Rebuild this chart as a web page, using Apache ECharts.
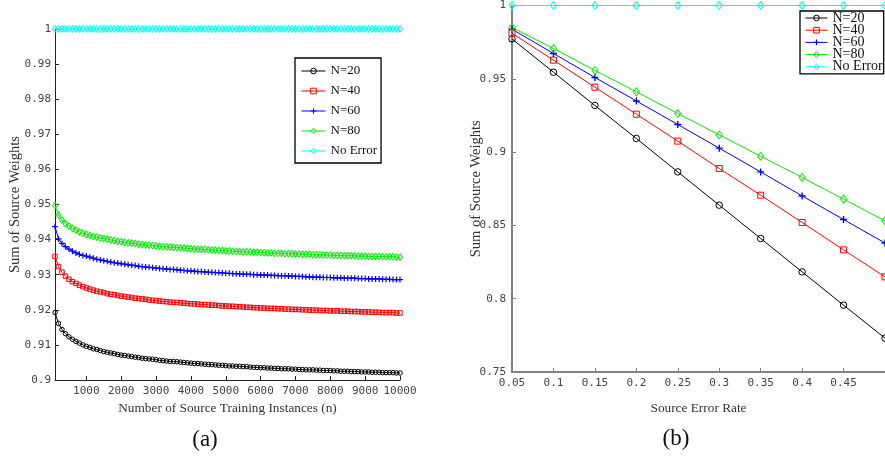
<!DOCTYPE html>
<html><head><meta charset="utf-8">
<script src="https://cdn.jsdelivr.net/npm/echarts@6/dist/echarts.min.js"></script>
<style>html,body{margin:0;padding:0;background:#fff}#c{width:885px;height:457px}</style>
</head><body><div id="c"></div>
<script>
// ---------- Panel (a) data ----------
var nValues = [100,200,300,400,500,600,700,800,900,1000,1100,1200,1300,1400,1500,1600,1700,1800,1900,2000,2100,2200,2300,2400,2500,2600,2700,2800,2900,3000,3100,3200,3300,3400,3500,3600,3700,3800,3900,4000,4100,4200,4300,4400,4500,4600,4700,4800,4900,5000,5100,5200,5300,5400,5500,5600,5700,5800,5900,6000,6100,6200,6300,6400,6500,6600,6700,6800,6900,7000,7100,7200,7300,7400,7500,7600,7700,7800,7900,8000,8100,8200,8300,8400,8500,8600,8700,8800,8900,9000,9100,9200,9300,9400,9500,9600,9700,9800,9900,10000];
var xTicksA = [1000,2000,3000,4000,5000,6000,7000,8000,9000,10000];
var n20A = [0.9192,0.9161,0.9144,0.9132,0.9123,0.9116,0.9110,0.9105,0.9100,0.9096,
0.9093,0.9089,0.9087,0.9084,0.9081,0.9079,0.9077,0.9075,0.9073,0.9071,
0.9070,0.9068,0.9067,0.9065,0.9064,0.9062,0.9061,0.9060,0.9059,0.9058,
0.9056,0.9055,0.9054,0.9053,0.9053,0.9052,0.9051,0.9050,0.9049,0.9048,
0.9047,0.9047,0.9046,0.9045,0.9044,0.9044,0.9043,0.9042,0.9042,0.9041,
0.9040,0.9040,0.9039,0.9039,0.9038,0.9038,0.9037,0.9036,0.9036,0.9035,
0.9035,0.9034,0.9034,0.9033,0.9033,0.9032,0.9032,0.9032,0.9031,0.9031,
0.9030,0.9030,0.9029,0.9029,0.9029,0.9028,0.9028,0.9027,0.9027,0.9027,
0.9026,0.9026,0.9025,0.9025,0.9025,0.9024,0.9024,0.9024,0.9023,0.9023,
0.9023,0.9022,0.9022,0.9022,0.9021,0.9021,0.9021,0.9021,0.9020,0.9020];
var n40A = [0.9352,0.9323,0.9307,0.9296,0.9287,0.9280,0.9275,0.9270,0.9266,0.9262,
0.9259,0.9256,0.9253,0.9251,0.9249,0.9246,0.9244,0.9243,0.9241,0.9239,
0.9238,0.9236,0.9235,0.9233,0.9232,0.9231,0.9230,0.9228,0.9227,0.9226,
0.9225,0.9224,0.9223,0.9222,0.9221,0.9221,0.9220,0.9219,0.9218,0.9217,
0.9217,0.9216,0.9215,0.9215,0.9214,0.9213,0.9213,0.9212,0.9211,0.9211,
0.9210,0.9210,0.9209,0.9209,0.9208,0.9207,0.9207,0.9206,0.9206,0.9205,
0.9205,0.9204,0.9204,0.9204,0.9203,0.9203,0.9202,0.9202,0.9201,0.9201,
0.9201,0.9200,0.9200,0.9199,0.9199,0.9199,0.9198,0.9198,0.9198,0.9197,
0.9197,0.9197,0.9196,0.9196,0.9196,0.9195,0.9195,0.9195,0.9194,0.9194,
0.9194,0.9193,0.9193,0.9193,0.9192,0.9192,0.9192,0.9192,0.9191,0.9191];
var n60A = [0.9437,0.9402,0.9389,0.9380,0.9373,0.9367,0.9362,0.9358,0.9355,0.9353,
0.9350,0.9347,0.9344,0.9342,0.9340,0.9338,0.9336,0.9334,0.9333,0.9331,
0.9330,0.9328,0.9327,0.9326,0.9324,0.9323,0.9322,0.9321,0.9320,0.9319,
0.9318,0.9317,0.9316,0.9315,0.9315,0.9314,0.9313,0.9312,0.9311,0.9311,
0.9310,0.9309,0.9309,0.9308,0.9307,0.9307,0.9306,0.9306,0.9305,0.9304,
0.9304,0.9303,0.9303,0.9302,0.9302,0.9301,0.9301,0.9300,0.9300,0.9299,
0.9299,0.9299,0.9298,0.9298,0.9297,0.9297,0.9297,0.9296,0.9296,0.9295,
0.9295,0.9295,0.9294,0.9294,0.9293,0.9293,0.9293,0.9292,0.9292,0.9292,
0.9291,0.9291,0.9291,0.9290,0.9290,0.9290,0.9290,0.9289,0.9289,0.9289,
0.9288,0.9288,0.9288,0.9288,0.9287,0.9287,0.9287,0.9286,0.9286,0.9286];
var n80A = [0.9497,0.9470,0.9456,0.9445,0.9438,0.9432,0.9427,0.9422,0.9418,0.9415,
0.9412,0.9409,0.9407,0.9405,0.9403,0.9401,0.9399,0.9397,0.9395,0.9394,
0.9392,0.9391,0.9390,0.9389,0.9387,0.9386,0.9385,0.9384,0.9383,0.9382,
0.9381,0.9380,0.9379,0.9379,0.9378,0.9377,0.9376,0.9376,0.9375,0.9374,
0.9373,0.9373,0.9372,0.9372,0.9371,0.9370,0.9370,0.9369,0.9369,0.9368,
0.9368,0.9367,0.9366,0.9366,0.9365,0.9365,0.9365,0.9364,0.9364,0.9363,
0.9363,0.9362,0.9362,0.9361,0.9361,0.9361,0.9360,0.9360,0.9360,0.9359,
0.9359,0.9358,0.9358,0.9358,0.9357,0.9357,0.9357,0.9356,0.9356,0.9356,
0.9355,0.9355,0.9355,0.9354,0.9354,0.9354,0.9354,0.9353,0.9353,0.9353,
0.9352,0.9352,0.9352,0.9352,0.9351,0.9351,0.9351,0.9351,0.9350,0.9350];
var noErrA = [1,1,1,1,1,1,1,1,1,1,1,1,1,1,1,1,1,1,1,1,1,1,1,1,1,1,1,1,1,1,1,1,1,1,1,1,1,1,1,1,1,1,1,1,1,1,1,1,1,1,1,1,1,1,1,1,1,1,1,1,1,1,1,1,1,1,1,1,1,1,1,1,1,1,1,1,1,1,1,1,1,1,1,1,1,1,1,1,1,1,1,1,1,1,1,1,1,1,1,1];

// ---------- Panel (b) data ----------
var errRates = [0.05,0.1,0.15,0.2,0.25,0.3,0.35,0.4,0.45,0.5];
var n20B = [0.9772,0.9545,0.9318,0.9093,0.8865,0.8638,0.8411,0.8183,0.7956,0.7731];
var n40B = [0.9811,0.9627,0.9443,0.9259,0.9075,0.8888,0.8706,0.8520,0.8333,0.8149];
var n60B = [0.9838,0.9673,0.9509,0.9349,0.9188,0.9027,0.8865,0.8701,0.8540,0.8380];
var n80B = [0.9850,0.9707,0.9557,0.9411,0.9263,0.9117,0.8972,0.8827,0.8679,0.8531];
var noErrB = [1,1,1,1,1,1,1,1,1,1];

var seriesNames = ['N=20','N=40','N=60','N=80','No Error'];
var yTitle = 'Sum of Source Weights';
var xTitleA = 'Number of Source Training Instances (n)';
var xTitleB = 'Source Error Rate';

// ---------- styling ----------
var colors = ['#000000','#ff0000','#0000ff','#00ee00','#00ffff'];
var PLUS = 'path://M0,4H10V6H0Z M4,0H6V10H4Z';
var symA = [['circle',4.5],['rect',4.5],[PLUS,6],['diamond',[5,6.5]],['diamond',[5,6.5]]];
var symB = [['circle',6.5],['rect',6],[PLUS,7],['diamond',[6,8]],['diamond',[6,8]]];
var MONO = 'DejaVu Sans Mono';
var SERIF = 'Liberation Serif';
var CLEAR = 'rgba(255,255,255,0)';

function zip(xs, ys){ return xs.map(function(x,i){ return [x, ys[i]]; }); }
function styleFor(i, sym){
  return sym[0] === PLUS ? {color: colors[i], borderWidth: 0}
                         : {color: CLEAR, borderColor: colors[i], borderWidth: 1};
}
function mk(i, xs, ys, idx, sym){
  return {
    name: seriesNames[i], type: 'line', xAxisIndex: idx, yAxisIndex: idx,
    data: zip(xs, ys), symbol: sym[0], symbolSize: sym[1], showSymbol: true,
    clip: false, animation: false, silent: true,
    lineStyle: {color: colors[i], width: 1},
    itemStyle: styleFor(i, sym),
    emphasis: {disabled: true}
  };
}
function legendData(){
  return seriesNames.map(function(n, i){
    return {name: n, itemStyle: styleFor(i, symA[i]), lineStyle: {color: colors[i], width: 1}};
  });
}

var dataA = [n20A, n40A, n60A, n80A, noErrA];
var dataB = [n20B, n40B, n60B, n80B, noErrB];
var series = [];
for (var i = 0; i < 5; i++) series.push(mk(i, nValues, dataA[i], 0, symA[i]));
for (var j = 0; j < 5; j++) series.push(mk(j, errRates, dataB[j], 1, symB[j]));

var chart = echarts.init(document.getElementById('c'), null, {renderer: 'canvas'});
chart.setOption({
  animation: false,
  backgroundColor: '#fff',
  grid: [
    {left: 55, top: 29, width: 345, height: 351},
    {left: 512, top: 5, width: 374, height: 367}
  ],
  xAxis: [
    {type: 'value', gridIndex: 0, min: 100, max: 10000,
     name: xTitleA, nameLocation: 'middle', nameGap: 19,
     nameTextStyle: {fontFamily: SERIF, fontSize: 13.3, color: '#333'},
     axisLine: {lineStyle: {color: '#222', width: 1}},
     axisTick: {inside: true, length: 4, lineStyle: {color: '#222'}, customValues: xTicksA},
     axisLabel: {fontFamily: MONO, fontSize: 11, color: '#444', margin: 6, customValues: xTicksA,
                 hideOverlap: false, showMaxLabel: true,
                 formatter: function(v){ return String(v); }},
     splitLine: {show: false}},
    {type: 'value', gridIndex: 1, min: 0.05, max: 0.5, interval: 0.05,
     name: xTitleB, nameLocation: 'middle', nameGap: 30,
     nameTextStyle: {fontFamily: SERIF, fontSize: 13.3, color: '#333'},
     axisLine: {lineStyle: {color: '#808080', width: 2}},
     axisTick: {inside: true, length: 4, lineStyle: {color: '#808080'}},
     axisLabel: {fontFamily: MONO, fontSize: 11, color: '#444', margin: 6, showMaxLabel: false},
     splitLine: {show: false}}
  ],
  yAxis: [
    {type: 'value', gridIndex: 0, min: 0.9, max: 1, interval: 0.01,
     name: yTitle, nameLocation: 'middle', nameGap: 32.5, nameRotate: 90, nameMoveOverlap: false,
     nameTextStyle: {fontFamily: SERIF, fontSize: 14.5, color: '#333'},
     axisLine: {show: true, lineStyle: {color: '#222', width: 1}},
     axisTick: {show: true, inside: true, length: 4, lineStyle: {color: '#222'}},
     axisLabel: {fontFamily: MONO, fontSize: 11, color: '#444', margin: 4},
     splitLine: {show: false}},
    {type: 'value', gridIndex: 1, min: 0.75, max: 1, interval: 0.05,
     name: yTitle, nameLocation: 'middle', nameGap: 28.5, nameRotate: 90, nameMoveOverlap: false,
     nameTextStyle: {fontFamily: SERIF, fontSize: 14.5, color: '#333'},
     axisLine: {show: true, lineStyle: {color: '#808080', width: 2}},
     axisTick: {show: true, inside: true, length: 4, lineStyle: {color: '#808080'}},
     axisLabel: {fontFamily: MONO, fontSize: 11, color: '#444', margin: 6},
     splitLine: {show: false}}
  ],
  legend: [
    {data: legendData(), orient: 'vertical', left: 295, top: 58,
     itemWidth: 24, itemHeight: 7, itemGap: 6, selectedMode: false,
     padding: [6, 4, 5, 6], borderColor: '#000', borderWidth: 1.3, backgroundColor: '#fff',
     textStyle: {fontFamily: SERIF, fontSize: 13, lineHeight: 14, color: '#111'}},
    {data: legendData(), orient: 'vertical', left: 800, top: 11,
     itemWidth: 22, itemHeight: 7, itemGap: -1.8, selectedMode: false,
     padding: [0, 1, 0, 5], borderColor: '#000', borderWidth: 1.3, backgroundColor: '#fff',
     textStyle: {fontFamily: SERIF, fontSize: 14, lineHeight: 12, color: '#111'}}
  ],
  graphic: [
    {type: 'text', x: 205, y: 440, style: {text: '(a)', font: '23px "Liberation Serif"', fill: '#111', align: 'center', verticalAlign: 'middle'}},
    {type: 'text', x: 676, y: 439, style: {text: '(b)', font: '23px "Liberation Serif"', fill: '#111', align: 'center', verticalAlign: 'middle'}}
  ],
  series: series
});
</script></body></html>
